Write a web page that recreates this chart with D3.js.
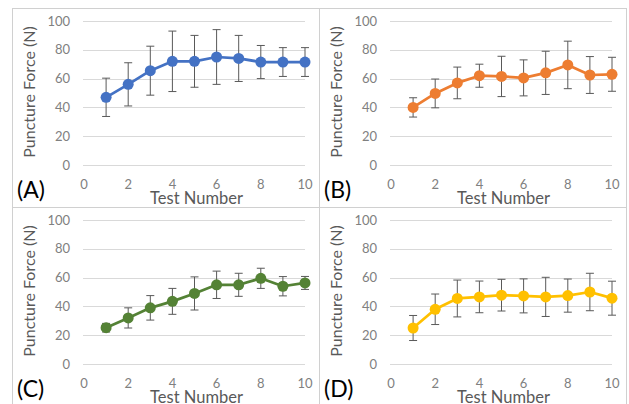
<!DOCTYPE html>
<html>
<head>
<meta charset="utf-8">
<script src="https://cdn.jsdelivr.net/npm/d3@7"></script>
<style>
  body { margin: 0; background: #fff; }
  svg { display: block; font-family: Lato, "Liberation Sans", sans-serif; }
</style>
</head>
<body>
<script>
var tests = [1, 2, 3, 4, 5, 6, 7, 8, 9, 10]
var xTicks = [0, 2, 4, 6, 8, 10]
var yTicks = [0, 20, 40, 60, 80, 100]
var panelLabels = ["(A)", "(B)", "(C)", "(D)"]
var panelColors = ["#4472C4", "#ED7D31", "#548235", "#FFC000"]

// mean puncture force per test
var meanA = [47, 56, 65.5, 72, 72, 75, 74, 71.5, 71.5, 71.5]
var meanB = [40, 49.7, 57, 62, 61.5, 60.5, 64, 69.5, 62.5, 63]
var meanC = [25.2, 32, 39, 43.5, 49, 55, 55, 59.5, 54, 56.3]
var meanD = [25, 38, 45.5, 46.6, 47.8, 47.3, 46.6, 47.5, 50, 45.7]
// error bar half-lengths
var errA = [13.3, 15, 17, 21, 18, 19, 16, 11.5, 10, 10]
var errB = [6.7, 10, 11, 8, 14, 12.5, 15, 16.5, 12.8, 11.8]
var errC = [3, 7, 8.5, 9, 11.5, 9.5, 8, 7, 6.7, 4.5]
var errD = [8.7, 10.6, 12.8, 11, 11, 11.8, 13.6, 11.5, 13, 11.8]

var means = [meanA, meanB, meanC, meanD]
var errs = [errA, errB, errC, errD]

var width = 629, height = 404
var pw = 307, ph = 199
var origins = [[12, 8], [319, 8], [12, 207], [319, 207]]

var svg = d3.select("body").append("svg")
  .attr("width", width)
  .attr("height", height)

var x = d3.scaleLinear().domain([0, 10]).range([72, 293])
var y = d3.scaleLinear().domain([0, 100]).range([157, 13])

// panel frames
svg.selectAll("rect.frame")
  .data(origins)
  .enter().append("rect")
  .attr("class", "frame")
  .attr("x", d => d[0] + 0.5)
  .attr("y", d => d[1] + 0.5)
  .attr("width", pw)
  .attr("height", ph)
  .attr("fill", "none")
  .attr("stroke", "#d0d0d0")
  .attr("stroke-width", 1)

function drawPanel(i) {
  var g = svg.append("g")
    .attr("transform", "translate(" + origins[i][0] + "," + origins[i][1] + ")")
  var pts = tests.map(function (t, j) {
    return { t: t, v: means[i][j], e: errs[i][j] }
  })

  // gridlines
  g.selectAll("line.grid")
    .data(yTicks)
    .enter().append("line")
    .attr("x1", x(0) - 1)
    .attr("x2", x(10))
    .attr("y1", d => Math.round(y(d)) + 0.5)
    .attr("y2", d => Math.round(y(d)) + 0.5)
    .attr("stroke", "#d9d9d9")
    .attr("stroke-width", 1)

  // y tick labels
  g.selectAll("text.ytick")
    .data(yTicks)
    .enter().append("text")
    .attr("x", x(0) - 14)
    .attr("y", d => y(d))
    .attr("dy", "0.35em")
    .attr("text-anchor", "end")
    .attr("font-size", 13)
    .attr("fill", "#808080")
    .text(d => d)

  // x tick labels
  g.selectAll("text.xtick")
    .data(xTicks)
    .enter().append("text")
    .attr("x", d => x(d))
    .attr("y", y(0) + 19)
    .attr("dy", "0.35em")
    .attr("text-anchor", "middle")
    .attr("font-size", 13)
    .attr("fill", "#808080")
    .text(d => d)

  // axis titles
  g.append("text")
    .attr("transform", "translate(23,84) rotate(-90)")
    .attr("text-anchor", "middle")
    .attr("font-size", 16)
    .attr("fill", "#595959")
    .text("Puncture Force (N)")

  g.append("text")
    .attr("x", (x(0) + x(10)) / 2 + 2)
    .attr("y", y(0) + 39)
    .attr("text-anchor", "middle")
    .attr("font-size", 16.5)
    .attr("fill", "#595959")
    .text("Test Number")

  g.append("text")
    .attr("x", 5)
    .attr("y", ph - 9)
    .attr("font-size", 23)
    .attr("fill", "#000")
    .text(panelLabels[i])

  // error bars
  var eb = g.selectAll("g.err")
    .data(pts)
    .enter().append("g")
    .attr("stroke", "#595959")
    .attr("stroke-width", 1)
  eb.append("line")
    .attr("x1", d => x(d.t)).attr("x2", d => x(d.t))
    .attr("y1", d => y(d.v - d.e)).attr("y2", d => y(d.v + d.e))
  eb.append("line")
    .attr("x1", d => x(d.t) - 4).attr("x2", d => x(d.t) + 4)
    .attr("y1", d => y(d.v + d.e)).attr("y2", d => y(d.v + d.e))
  eb.append("line")
    .attr("x1", d => x(d.t) - 4).attr("x2", d => x(d.t) + 4)
    .attr("y1", d => y(d.v - d.e)).attr("y2", d => y(d.v - d.e))

  // line and markers
  g.append("path")
    .datum(pts)
    .attr("fill", "none")
    .attr("stroke", panelColors[i])
    .attr("stroke-width", 2.75)
    .attr("stroke-linejoin", "round")
    .attr("d", d3.line().x(d => x(d.t)).y(d => y(d.v)))

  g.selectAll("circle")
    .data(pts)
    .enter().append("circle")
    .attr("cx", d => x(d.t))
    .attr("cy", d => y(d.v))
    .attr("r", 5.5)
    .attr("fill", panelColors[i])
}

for (var i = 0; i < 4; i++) drawPanel(i)
</script>
</body>
</html>
